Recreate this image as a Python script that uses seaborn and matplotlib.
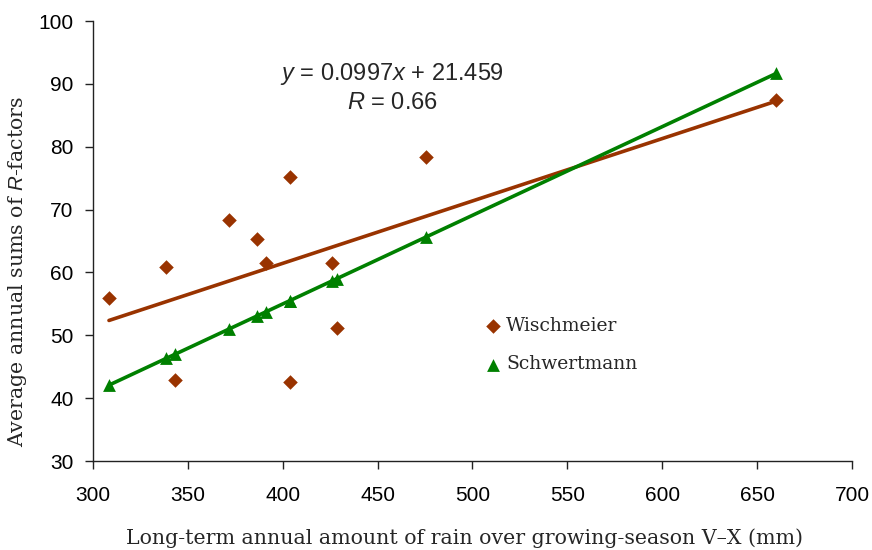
import numpy as np
import pandas as pd
import seaborn as sns
import matplotlib.pyplot as plt

# rain over growing season V-X (mm)
rain = [308.4, 338.5, 343.2, 371.7, 386.4, 391.2, 403.8, 403.8, 426.0, 428.6, 475.5, 660.0]
# R-factors
wischmeier = [55.9, 60.9, 42.9, 68.3, 65.3, 61.5, 75.2, 42.6, 61.5, 51.2, 78.3, 87.4]
schwertmann = [42.1, 46.4, 47.0, 51.0, 53.1, 53.7, 55.5, 55.5, 58.6, 59.0, 65.6, 91.7]

df = pd.DataFrame({'rain': rain, 'Wischmeier': wischmeier, 'Schwertmann': schwertmann})

sns.set_style('ticks')
plt.rcParams['font.family'] = ['Liberation Sans', 'DejaVu Sans']
plt.rcParams['mathtext.fontset'] = 'custom'
plt.rcParams['mathtext.rm'] = 'Liberation Sans'
plt.rcParams['mathtext.it'] = 'Liberation Sans:italic'

brown = '#993300'
green = '#008000'

fig = plt.figure(figsize=(8.72, 5.5), dpi=100)
ax = fig.add_axes([0.1067, 0.1618, 0.8703, 0.80])

sns.regplot(x='rain', y='Wischmeier', data=df, ax=ax, ci=None, marker='D', color=brown,
            label='Wischmeier',
            scatter_kws={'s': 55, 'zorder': 3, 'linewidths': 0, 'alpha': 1},
            line_kws={'lw': 2.6, 'zorder': 2})
sns.regplot(x='rain', y='Schwertmann', data=df, ax=ax, ci=None, marker='^', color=green,
            label='Schwertmann',
            scatter_kws={'s': 85, 'zorder': 3, 'linewidths': 0, 'alpha': 1},
            line_kws={'lw': 2.6, 'zorder': 2})

ax.set_xlim(300, 700)
ax.set_ylim(30, 100)
ax.set_xticks(range(300, 701, 50))
ax.set_yticks(range(30, 101, 10))
ax.tick_params(labelsize=15, length=6, width=1, colors='#222222', labelcolor='black')
ax.tick_params(axis='x', pad=12)
ax.tick_params(axis='y', pad=8)
for s in ['left', 'bottom']:
    ax.spines[s].set_color('#222222')
    ax.spines[s].set_linewidth(1)
sns.despine(ax=ax)

serif = ['DejaVu Serif']
ax.set_xlabel('Long-term annual amount of rain over growing-season V\u2013X (mm)',
              fontsize=14.8, family=serif)
ax.set_ylabel('Average annual sums of $\\it{R}$-factors', fontsize=14.8, family=serif)
ax.yaxis.set_label_coords(-0.084, 0.43)
ax.xaxis.set_label_coords(0.49, -0.152)

ax.text(457.6, 91.6, '$y$ = 0.0997$x$ + 21.459', fontsize=17, ha='center', va='center')
ax.text(457.6, 87.0, '$R$ = 0.66', fontsize=17, ha='center', va='center')

ax.legend(loc='upper left', bbox_to_anchor=(0.49, 0.366), frameon=False,
          prop={'family': serif, 'size': 13.5}, handletextpad=0.1, labelspacing=1.1,
          handlelength=1.2)

fig.savefig('out.png', dpi=100)
